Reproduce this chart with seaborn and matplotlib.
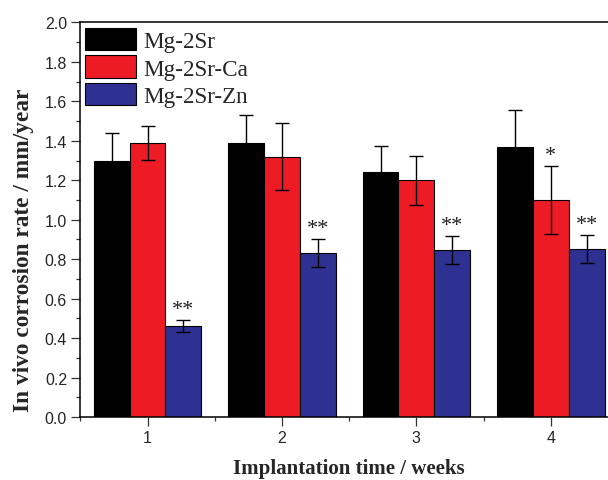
import matplotlib
matplotlib.use("Agg")
import matplotlib.pyplot as plt
import seaborn as sns
import pandas as pd
import numpy as np
from matplotlib.ticker import MultipleLocator, FixedLocator

weeks = ["1", "2", "3", "4"]
groups = ["Mg-2Sr", "Mg-2Sr-Ca", "Mg-2Sr-Zn"]
rate_sr = [1.30, 1.39, 1.24, 1.37]
rate_ca = [1.39, 1.32, 1.20, 1.10]
rate_zn = [0.46, 0.83, 0.845, 0.85]
err_sr = [0.14, 0.14, 0.135, 0.185]
err_ca = [0.085, 0.17, 0.125, 0.17]
err_zn = [0.03, 0.07, 0.07, 0.07]
stars_sr = ["", "", "", ""]
stars_ca = ["", "", "", "*"]
stars_zn = ["**", "**", "**", "**"]
colors = ["#000000", "#ED1C24", "#2E3192"]

rows = []
for g, vals in zip(groups, [rate_sr, rate_ca, rate_zn]):
    for w, v in zip(weeks, vals):
        rows.append({"week": w, "group": g, "rate": v})
df = pd.DataFrame(rows)

sns.set_style("ticks")
plt.rcParams["font.family"] = ["Liberation Sans", "DejaVu Sans"]

fig = plt.figure(figsize=(6.08, 4.81), dpi=100)
ax = fig.add_axes([80.3 / 608, 63 / 481, (618 - 80.3) / 608, (418 - 23.4) / 481])

sns.barplot(data=df, x="week", y="rate", hue="group", hue_order=groups,
            order=weeks, palette=colors, errorbar=None, width=0.8,
            edgecolor="black", linewidth=0.8, saturation=1, ax=ax)

errs = [err_sr, err_ca, err_zn]
stars = [stars_sr, stars_ca, stars_zn]
for cont, e, st in zip(ax.containers, errs, stars):
    xs = [p.get_x() + p.get_width() / 2 for p in cont.patches]
    hs = [p.get_height() for p in cont.patches]
    ax.errorbar(xs, hs, yerr=e, fmt="none", ecolor="black", elinewidth=1,
                capsize=5, capthick=1, zorder=5)
    for x, h, ee, s in zip(xs, hs, e, st):
        if s:
            ax.text(x, h + ee + 0.008, s, ha="center", va="bottom",
                    fontsize=16, family=["Liberation Serif"], color="#222222")

ax.set_xlim(-0.5, 3.5)
ax.set_ylim(0, 2.0)
ax.yaxis.set_major_locator(MultipleLocator(0.2))
ax.yaxis.set_minor_locator(MultipleLocator(0.1))
ax.xaxis.set_minor_locator(FixedLocator([-0.5, 0.5, 1.5, 2.5, 3.5]))
ax.set_yticks(np.arange(0, 2.01, 0.2))
ax.set_yticklabels([f"{v:.1f}" for v in np.arange(0, 2.01, 0.2)])
ax.tick_params(axis="both", which="major", direction="out", length=6.5,
               width=0.9, labelsize=11.5, color="#333333", pad=3)
ax.tick_params(axis="both", which="minor", direction="out", length=3,
               width=0.9, color="#333333")
for sp in ax.spines.values():
    sp.set_visible(True)
    sp.set_linewidth(1.1)
    sp.set_color("black")

ax.set_xlabel("Implantation time / weeks", fontsize=15, fontweight="bold",
              family=["Liberation Serif"], labelpad=9)
ax.set_ylabel("In vivo corrosion rate / mm/year", fontsize=16.8,
              fontweight="bold", family=["Liberation Serif"])
ax.yaxis.set_label_coords(-0.087, 0.425)

leg = ax.legend(loc="upper left", bbox_to_anchor=(85 / 608, 1 - 29 / 481),
                bbox_transform=fig.transFigure, frameon=False,
                prop={"family": "Liberation Serif", "size": 16.7},
                handlelength=2.2, handleheight=1.1, labelspacing=0.15,
                handletextpad=0.3, borderpad=0, borderaxespad=0)
for h in leg.legend_handles:
    h.set_edgecolor("black")
    h.set_linewidth(0.8)

fig.savefig("out.png", dpi=100)
